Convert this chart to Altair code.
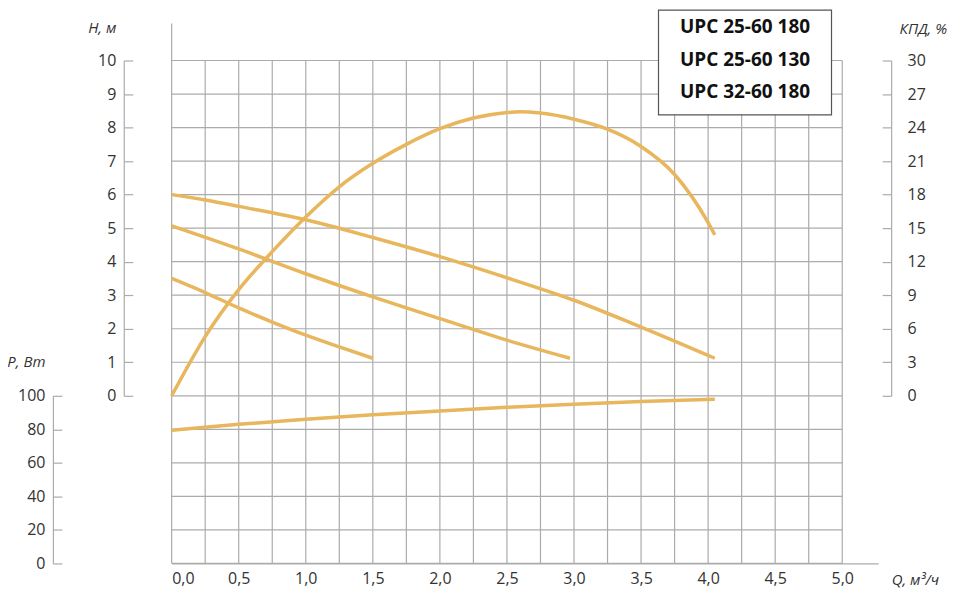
import altair as alt
import pandas as pd

# ---------------- data ----------------
# Head curves H(Q), m
q_a = [0.0, 0.25, 0.5, 1.0, 1.5, 2.0, 2.5, 3.0, 3.5, 4.05]
h_a = [6.0, 5.84, 5.65, 5.25, 4.72, 4.15, 3.52, 2.85, 2.05, 1.12]
q_b = [0.0, 0.5, 1.0, 1.5, 2.0, 2.5, 2.97]
h_b = [5.07, 4.38, 3.64, 2.95, 2.3, 1.66, 1.12]
q_c = [0.0, 0.25, 0.5, 0.75, 1.0, 1.25, 1.5]
h_c = [3.5, 3.08, 2.62, 2.2, 1.81, 1.46, 1.12]
# Efficiency, %
q_e = [0.0, 0.25, 0.5, 0.75, 1.0, 1.25, 1.5, 1.75, 2.0, 2.25, 2.5, 2.6, 2.75,
       3.0, 3.25, 3.5, 3.75, 4.0, 4.05]
eff = [0.0, 5.3, 9.5, 12.9, 16.0, 18.7, 20.8, 22.5, 23.9, 24.85, 25.35, 25.42,
       25.3, 24.75, 23.85, 22.3, 19.8, 15.5, 14.4]
# Power, W
q_p = [0.0, 0.5, 1.0, 1.5, 2.0, 2.5, 3.0, 3.5, 4.05]
pwr = [79.5, 83.0, 86.0, 88.7, 91.0, 93.1, 95.0, 96.6, 97.9]

# Tick values
tick_q = [0.0, 0.5, 1.0, 1.5, 2.0, 2.5, 3.0, 3.5, 4.0, 4.5, 5.0]
tick_h = [0, 1, 2, 3, 4, 5, 6, 7, 8, 9, 10]
tick_p = [0, 20, 40, 60, 80, 100]
tick_e = [0, 3, 6, 9, 12, 15, 18, 21, 24, 27, 30]
grid_q = [i * 0.25 for i in range(21)]
grid_h = list(range(-5, 11))
legend_labels = ["UPC 25-60 180", "UPC 25-60 130", "UPC 32-60 180"]
legend_rows = [11.0, 10.02, 9.05]

# ---------------- layout ----------------
W, HGT = 708, 541
U = 33.6          # px per 1 m of head (grid row)
XU = 134.4        # px per 1 m3/h
X_MAX = W / XU
Y_MIN = -5
Y_MAX = Y_MIN + HGT / U
Y_H0 = HGT - 5 * U
Y_H10 = Y_H0 - 10 * U

CURVE = "#e8b65c"
GRID = "#ababab"
TXT = "#333333"
FONT = "Open Sans"

xscale = alt.Scale(domain=[0, X_MAX], nice=False, zero=False)
xaxis = alt.Axis(
    values=tick_q, labelExpr="replace(format(datum.value, '.1f'), '.', ',')",
    ticks=False, domain=True, domainColor=GRID, domainWidth=1.2, grid=False,
    labelFont=FONT, labelFontSize=16, labelColor=TXT, labelPadding=7,
    title="Q, м³/ч", titleFont=FONT, titleFontStyle="italic", titleFontWeight="normal",
    titleFontSize=15, titleColor=TXT, titleX=721, titleY=16, titleAlign="left",
    titleBaseline="middle", titleAngle=0,
)
X = alt.X("x:Q", scale=xscale, axis=xaxis)
gscale = alt.Scale(domain=[Y_MIN, Y_MAX], nice=False, zero=False)


def yaxis(orient, offset, values, title, tx, ty, talign, pad, lalign):
    return alt.Axis(
        orient=orient, offset=offset, values=values, grid=False,
        tickSize=9, tickColor=GRID, tickWidth=1.2, domainColor=GRID, domainWidth=1.2,
        labelFont=FONT, labelFontSize=16, labelColor=TXT, labelPadding=pad,
        labelAlign=lalign, labelBaseline="middle",
        title=title, titleFont=FONT, titleFontStyle="italic", titleFontWeight="normal",
        titleFontSize=15, titleColor=TXT, titleAngle=0, titleX=tx, titleY=ty,
        titleAlign=talign, titleBaseline="middle",
    )


# ---------------- grid ----------------
vgrid = pd.DataFrame({"x": grid_q, "ya": [Y_MIN] * len(grid_q),
                      "yb": [Y_MAX] + [10] * (len(grid_q) - 1)})
hgrid = pd.DataFrame({"yg": grid_h, "x": [0.0] * len(grid_h), "x2": [5.0] * len(grid_h)})

l_vgrid = alt.Chart(vgrid).mark_rule(color=GRID, strokeWidth=1.2).encode(
    x=X, y=alt.Y("ya:Q", scale=gscale, axis=None), y2="yb:Q")
l_hgrid = alt.Chart(hgrid).mark_rule(color=GRID, strokeWidth=1.2).encode(
    x=X, x2="x2:Q", y=alt.Y("yg:Q", scale=gscale, axis=None))

# ---------------- legend box ----------------
box = pd.DataFrame({"x": [3.63], "x2": [4.92], "yr": [8.38], "yr2": [11.5]})
l_box = alt.Chart(box).mark_rect(fill="white", stroke="#555555", strokeWidth=1.2).encode(
    x=X, x2="x2:Q", y=alt.Y("yr:Q", scale=gscale, axis=None), y2="yr2:Q")
leg = pd.DataFrame({"x": [4.275] * 3, "yt": legend_rows, "label": legend_labels})
l_leg = alt.Chart(leg).mark_text(font=FONT, fontSize=19, fontWeight="bold",
                                 color="#111111", align="center", baseline="middle").encode(
    x=X, y=alt.Y("yt:Q", scale=gscale, axis=None), text="label:N")

# ---------------- curves ----------------
hdf = pd.concat([
    pd.DataFrame({"x": q_a, "H": h_a, "s": "a"}),
    pd.DataFrame({"x": q_b, "H": h_b, "s": "b"}),
    pd.DataFrame({"x": q_c, "H": h_c, "s": "c"}),
])
l_h = alt.Chart(hdf).mark_line(color=CURVE, strokeWidth=3.5, interpolate="monotone").encode(
    x=X,
    y=alt.Y("H:Q", scale=alt.Scale(domain=[0, 10], range=[Y_H0, Y_H10], nice=False, zero=False),
            axis=yaxis("right", -(W + 48), tick_h, "H, м", -8, 4, "right", -17, "right")),
    detail="s:N")

pdf = pd.DataFrame({"x": q_p, "P": pwr})
l_p = alt.Chart(pdf).mark_line(color=CURVE, strokeWidth=3.5, interpolate="monotone").encode(
    x=X,
    y=alt.Y("P:Q", scale=alt.Scale(domain=[0, 100], range=[HGT, Y_H0], nice=False, zero=False),
            axis=yaxis("right", -(W + 119), tick_p, "P, Вт", -8, 339, "right", -17, "right")))

edf = pd.DataFrame({"x": q_e, "E": eff})
l_e = alt.Chart(edf).mark_line(color=CURVE, strokeWidth=3.5, interpolate="monotone").encode(
    x=X,
    y=alt.Y("E:Q", scale=alt.Scale(domain=[0, 30], range=[Y_H0, Y_H10], nice=False, zero=False),
            axis=yaxis("left", -(W + 13), tick_e, "КПД, %", 8, 5, "left", -25, "left")))

chart = alt.layer(l_vgrid, l_hgrid, l_box, l_leg, l_h, l_p, l_e).resolve_scale(
    y="independent").properties(
    width=W, height=HGT,
    autosize=alt.AutoSizeParams(type="none"),
    padding={"left": 164, "top": 15, "right": 80, "bottom": 30},
    background="white",
).configure_view(stroke=None)

chart.save("out.html", embed_options={"renderer": "svg", "actions": False})
